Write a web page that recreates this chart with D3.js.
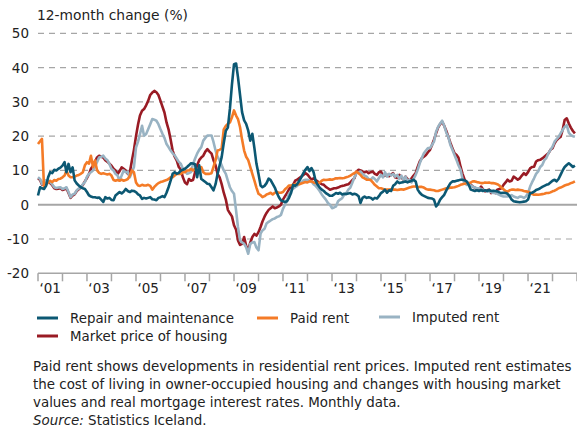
<!DOCTYPE html>
<html>
<head>
<meta charset="utf-8">
<script src="https://cdn.jsdelivr.net/npm/d3@7"></script>
<style>
  body { margin: 0; background: #fff; }
  svg { display: block; font-family: "DejaVu Sans", sans-serif; }
</style>
</head>
<body>
<script>
// monthly 12-month change (%), Jan 2001 .. Dec 2022, one row per year
const repair = [
  2.7, 5.1, 4.8, 4.6, 5.5, 8, 9.5, 9.2, 10.2, 10, 10.5, 10.8,
  11.4, 12.4, 9.5, 11.9, 9.5, 10.9, 7.1, 6.2, 5.6, 5.1, 4.8, 4.6,
  3.7, 2.7, 2.4, 2.2, 2.2, 2, 2.1, 1.5, 0.8, 2.2, 1.8, 2,
  1.4, 1.3, 2.7, 3.2, 3.7, 3.3, 3.8, 4.6, 4, 3.7, 4.1, 4,
  3.7, 3, 2.7, 1.7, 2, 1.8, 2, 2.2, 1.6, 1.5, 1.3, 2,
  2.2, 2.5, 2.2, 3.5, 5.1, 7, 9, 9.5, 9, 9.3, 10, 10.2,
  10.5, 11, 11.5, 12.1, 12, 11.8, 8, 11.5, 7.5, 7.1, 6.6, 6.1,
  6, 5.1, 4.2, 6, 9, 11.5, 13.9, 18, 21.6, 22.5, 28, 35,
  41, 41.2, 37.2, 32, 27, 24.6, 23.6, 21.6, 18.7, 20.7, 16.5, 12,
  9, 5.6, 5.1, 5.5, 6.3, 7.6, 7.2, 6.1, 5, 3.5, 2.2, 1.3,
  1, 0.8, 1, 2, 3.4, 5.8, 5.5, 6, 7, 8, 9.2, 10.2,
  11, 9.8, 10.7, 9.5, 7, 5.8, 5, 4.4, 4, 3.4, 3, 2.6,
  2.6, 3, 3.4, 3.2, 3.5, 3, 3.2, 3.1, 3.3, 3.4, 3, 3.2,
  3, 2.5, 0.5, 2, 2.4, 2, 2.2, 2, 1.5, 2, 1.8, 2.5,
  3.4, 3.8, 4.4, 3.5, 4.2, 4, 5.5, 6, 6.8, 6.3, 6.5, 6.6,
  6.8, 6.5, 6.8, 7, 7.3, 6.8, 4.4, 3.5, 2.9, 2.6, 2.3, 2,
  1.9, 1.8, 1.5, -0.5, 0.2, 1.5, 2.2, 2.9, 4.2, 5.3, 6.3, 6.8,
  6.8, 7, 7.1, 7.3, 7.3, 7.1, 6.8, 5.8, 4.4, 4.2, 4, 4.2,
  4, 4.3, 4, 4.2, 4, 4.3, 4, 4.1, 4, 3.9, 3.6, 3.4,
  3.5, 3.4, 3.2, 2.5, 1.5, 1, 0.9, 0.8, 0.7, 0.8, 0.9, 1,
  1.5, 3.4, 3.5, 3.8, 4.3, 4.5, 4.8, 5.2, 5.5, 5.8, 6, 6.5,
  7, 7.3, 6.8, 7.5, 8.7, 10, 11, 11.6, 12.1, 11.6, 11, 11.4
];

const paidRent = [
  17.7, 18.5, 19.2, 5, 5.8, 6.5, 7, 6.6, 7.2, 7, 7.5, 7.6,
  8, 8.5, 10, 8.5, 8, 8, 8.2, 8.5, 8.7, 9, 9.5, 11.5,
  12.4, 12, 14.3, 11, 12.9, 10, 9.3, 9, 9.2, 9, 8.8, 9,
  8.5, 7.2, 7, 7.2, 7, 7.3, 7, 7.2, 7.5, 8.5, 10, 9.5,
  6.5, 5.6, 5.5, 5.8, 5.6, 5.6, 5.8, 5.5, 4.4, 5.2, 5.8, 6.3,
  6.6, 6.8, 7, 7.2, 7.5, 8, 8, 8.5, 9, 9, 9, 9.5,
  9.5, 10, 10, 10.5, 10, 10.5, 10, 10.5, 11, 9.5, 9, 9,
  9, 9.2, 11, 13, 15.8, 16, 16.5, 22, 23, 23.6, 24, 25.5,
  27.5, 26, 25, 22.6, 19, 15.8, 14, 13, 11, 9, 7, 5,
  3.2, 2.8, 2.2, 2.5, 3, 3.2, 3.5, 3, 3.5, 3.7, 3.5, 3.5,
  3.7, 4.5, 5, 5.6, 5.6, 5.8, 6, 6, 6, 6.2, 6.4, 6.6,
  6.5, 6.8, 6.8, 6.5, 6.3, 6.3, 6.5, 7, 7.3, 7.2, 7.3, 7.4,
  7.3, 7.5, 7.7, 7.7, 7.8, 7.7, 7.8, 8, 8.2, 8.5, 8.9, 9.2,
  9.7, 9.2, 8.7, 8, 7.7, 7.3, 7.3, 7.2, 6.5, 5.8, 5.3, 4.8,
  4.8, 4.6, 4.4, 4.4, 4.4, 4.5, 4.4, 4.4, 4.3, 4.4, 4.5, 4.4,
  4.6, 4.8, 5, 5.2, 5.3, 5.3, 5.1, 5.2, 5.2, 5, 4.6, 4.4,
  4.4, 4.3, 4.2, 4, 4, 4.2, 4.4, 4.6, 4.8, 4.8, 5, 5,
  5.1, 5.3, 5.5, 5.8, 6, 6.1, 6.3, 6.3, 6.5, 6.8, 6.8, 6.6,
  6.5, 6.3, 6.3, 6.5, 6.4, 6.5, 6.3, 6.3, 6.2, 6, 5.6, 5,
  4.5, 4, 3.8, 4.2, 4.4, 4.4, 4.3, 4.4, 4.3, 4.2, 4, 3.9,
  3.8, 3.5, 3.2, 2.9, 3, 2.9, 3, 3.1, 3.2, 3.4, 3.4, 3.6,
  3.9, 4.1, 4.4, 4.8, 5, 5.3, 5.6, 5.8, 6, 6.3, 6.5, 6.8
];

const imputedRent = [
  8, 7.5, 6.1, 7, 7.1, 7, 6.6, 6, 5.1, 4.9, 5, 5.1,
  4.6, 4.8, 5.1, 3.7, 2.2, 3, 3.2, 4.2, 4.7, 5.1, 6, 6.6,
  8.2, 9, 9.5, 10, 11.2, 12.5, 13.8, 14, 14.3, 13.5, 13, 11.9,
  10.5, 10, 9, 8.5, 7.1, 8.5, 10, 9.5, 9.5, 8, 9.5, 11,
  16.7, 18.5, 20.6, 23, 20.1, 20.6, 22, 23.5, 25, 24.8, 24.5, 23.5,
  22, 20.6, 19.5, 17.7, 16.8, 15.8, 15, 14.4, 13.4, 12.5, 11.9, 10.5,
  10, 9, 9.2, 9.5, 11.9, 13.5, 14.9, 16, 16.8, 18.7, 19.5, 20.2,
  20.2, 20.2, 18.3, 15.8, 14, 12.9, 11.5, 10, 9, 7, 5.1, 4,
  3.2, -1.7, -6.5, -10.4, -11, -11.4, -12.4, -14.3, -11.4, -11, -10.9, -12.5,
  -13.3, -8.4, -7.5, -7, -5.5, -5, -4.6, -4.2, -4, -3.6, -3.4, -3,
  -1.2, 0, 1.3, 3.2, 4, 4.7, 5.1, 5.5, 6.1, 6.5, 7.1, 7.3,
  7.3, 7, 6.8, 6, 5.5, 4.8, 4, 3, 2.2, 1.5, 0.5, 0,
  -1, -0.8, -0.5, 1, 1.5, 1.9, 2.9, 3.4, 4.4, 5, 6.5, 8,
  9.2, 9.5, 9.7, 9, 8.5, 8.2, 7.5, 7.3, 8, 7.5, 6.8, 7.8,
  8.7, 8, 9.5, 8.2, 9, 8.5, 9, 8.2, 8.7, 7.5, 8.5, 7.3,
  8.2, 6.8, 7.3, 6.5, 7.5, 8.7, 10.2, 12.1, 13.6, 15, 15.8, 16.5,
  16.5, 17.5, 18.4, 21.3, 22.7, 23.7, 24.5, 23, 21, 19.8, 17.4, 16,
  14.5, 13, 11.5, 10.2, 7.5, 6.3, 5.8, 5.8, 5.6, 5.3, 5, 4.8,
  4.8, 4.6, 4.4, 4.2, 3.9, 3.9, 3.7, 3.4, 3.4, 3.2, 2.9, 2.6,
  2.4, 2.4, 2.4, 2.6, 2.8, 2.4, 2.2, 2, 2.4, 2.3, 2, 2.4,
  3.4, 5.3, 6.5, 7.7, 9, 9.7, 11, 11.6, 13, 13.6, 15, 16,
  16.9, 18.4, 19.1, 19.8, 20.8, 21.8, 22.7, 23.2, 21, 20.3, 20, 19.8
];

const marketPrice = [
  7.7, 7.2, 5.9, 6.8, 6.9, 6.7, 6.3, 5.7, 4.8, 4.6, 4.7, 4.8,
  4.3, 4.5, 4.8, 3.4, 2, 2.7, 3, 4, 4.5, 5, 5.8, 6.8,
  7.8, 9, 10.5, 11.4, 12.5, 13.8, 14.3, 14, 13.8, 13, 12.5, 12,
  11.4, 10.5, 10, 9, 9.8, 10.9, 10.5, 10, 9, 9.5, 12.9, 16,
  20, 23.5, 26, 27.4, 27.9, 29, 30.3, 32, 32.7, 33.2, 32.8, 32,
  30.3, 28.5, 26.9, 24, 22, 19, 15.8, 14, 12.9, 11, 10.2, 8,
  6.5, 6, 7.5, 7, 7.2, 9.5, 11.5, 13, 13.8, 14.3, 15.5, 16.2,
  15.5, 14.9, 13, 11.5, 9, 8, 6, 3.5, 1.5, -1.5, -2.5, -3.4,
  -6, -7.3, -10.4, -11.7, -11.4, -9.4, -12, -13.2, -11, -9.4, -8.5, -9,
  -8, -6.5, -4.9, -3.5, -2.4, -1.5, -1, -0.5, -1, -0.8, -0.5, 0,
  1.5, 2.5, 3.4, 4.5, 5.2, 5.8, 7, 7.3, 7.8, 8.2, 8.7, 9.2,
  8.8, 8, 7.3, 7.7, 7.2, 6.8, 6.3, 6, 5.8, 5.2, 4.8, 4.4,
  4.6, 4.8, 4.8, 5, 5.3, 5.5, 5.6, 5.8, 6, 6.5, 7.2, 7.7,
  9.7, 10.2, 10, 9.7, 9.5, 9.7, 9.2, 9.5, 9.7, 9, 8.7, 9.5,
  9.7, 8.3, 8.5, 8.7, 8.3, 8.8, 9.2, 8, 7.8, 8.7, 8, 7.3,
  8.2, 7.5, 6.8, 7.7, 8.5, 9.2, 11, 12.6, 13.6, 14, 14.5, 15.3,
  16, 17.5, 19, 20.8, 22.5, 23.5, 24.2, 23, 21.5, 19.8, 18, 16.5,
  15, 14.5, 13.7, 11.1, 9, 7.3, 6.3, 6.3, 5.8, 5.3, 5, 4.4,
  4.4, 5.3, 4.5, 3.9, 4.2, 4.4, 3.4, 3.6, 3.4, 4.4, 4.6, 4.8,
  5.8, 6.5, 7.3, 6.8, 7, 8.2, 7.8, 7.3, 7.7, 8.5, 9.2, 8.7,
  9.5, 10.6, 11, 11.1, 12.6, 13, 13.1, 13.5, 14, 14.5, 15, 16,
  16.5, 17.9, 18.8, 19.4, 19.8, 21.8, 24.7, 25.2, 23.7, 22.5, 21.5, 20.8
];

const yTicks = [50, 40, 30, 20, 10, 0, -10, -20];
const yearLabels = ["‘01", "‘03", "‘05", "‘07", "‘09", "‘11", "‘13", "‘15", "‘17", "‘19", "‘21"];
const legendNames = ["Repair and maintenance", "Paid rent", "Imputed rent", "Market price of housing"];
const captionLines = [
  "Paid rent shows developments in residential rent prices. Imputed rent estimates",
  "the cost of living in owner-occupied housing and changes with housing market",
  "values and real mortgage interest rates. Monthly data."
];

const W = 577, H = 432;
const colors = {
  repair: "#0c5873",
  paid: "#f47b27",
  imputed: "#99b3c3",
  market: "#991b24"
};
const textColor = "#222";

// scale a text selection's font so that its first node spans `width` px
function fitFont(sel, width) {
  const base = 20;
  sel.attr("font-size", base);
  const w = sel.node().getComputedTextLength();
  sel.attr("font-size", (base * width / w).toFixed(2));
}

const svg = d3.select("body").append("svg").attr("width", W).attr("height", H);

const x = d3.scaleTime()
  .domain([new Date(2001, 0, 1), new Date(2023, 0, 1)])
  .range([38, 577]);
const y = d3.scaleLinear().domain([-20, 50]).range([273.3, 33.3]);

// y title
const title = svg.append("text")
  .attr("x", 37).attr("y", 19.5)
  .attr("fill", textColor)
  .text("12-month change (%)");
fitFont(title, 151);

// grid
svg.append("g").selectAll("line")
  .data(yTicks.filter(d => d !== 0 && d !== -20))
  .join("line")
  .attr("x1", 38).attr("x2", W)
  .attr("y1", d => y(d)).attr("y2", d => y(d))
  .attr("stroke", "#a6a6a6").attr("stroke-width", 1.2)
  .attr("stroke-dasharray", "6,5");

svg.append("line")
  .attr("x1", 38).attr("x2", W)
  .attr("y1", y(0)).attr("y2", y(0))
  .attr("stroke", "#a6a6a6").attr("stroke-width", 2);

svg.append("g").selectAll("text")
  .data(yTicks)
  .join("text")
  .attr("x", 29).attr("y", d => y(d) + 5)
  .attr("text-anchor", "end")
  .attr("font-size", 13.5).attr("fill", textColor)
  .text(d => d);

// x axis along -20
const xAxis = svg.append("g").attr("transform", `translate(0,${y(-20)})`);
xAxis.append("line")
  .attr("x1", 38).attr("x2", W)
  .attr("stroke", "#a6a6a6").attr("stroke-width", 1.5);
xAxis.selectAll("line.tick")
  .data(d3.timeYear.range(new Date(2001, 0, 1), new Date(2023, 0, 2)))
  .join("line")
  .attr("class", "tick")
  .attr("x1", d => x(d)).attr("x2", d => x(d))
  .attr("y1", 0).attr("y2", 8)
  .attr("stroke", "#a6a6a6").attr("stroke-width", 1.5);
xAxis.selectAll("text")
  .data(yearLabels)
  .join("text")
  .attr("x", (d, i) => x(new Date(2001 + 2 * i, 6, 1)))
  .attr("y", 20)
  .attr("text-anchor", "middle")
  .attr("font-size", 13.5).attr("fill", textColor)
  .text(d => d);

// series
const months = d3.range(repair.length).map(i => new Date(2001, i, 1));
const line = d3.line().x((d, i) => x(months[i])).y(d => y(d));

const series = [
  { key: "market", values: marketPrice },
  { key: "imputed", values: imputedRent },
  { key: "paid", values: paidRent },
  { key: "repair", values: repair }
];

svg.append("g").selectAll("path")
  .data(series)
  .join("path")
  .attr("d", d => line(d.values))
  .attr("fill", "none")
  .attr("stroke", d => colors[d.key])
  .attr("stroke-width", 2.6)
  .attr("stroke-linejoin", "round");

// legend
const legendItems = [
  { name: legendNames[0], key: "repair", lx: 37, ly: 318 },
  { name: legendNames[1], key: "paid", lx: 257, ly: 318 },
  { name: legendNames[2], key: "imputed", lx: 379, ly: 317 },
  { name: legendNames[3], key: "market", lx: 37, ly: 336 }
];
const lg = svg.append("g").selectAll("g").data(legendItems).join("g");
lg.append("line")
  .attr("x1", d => d.lx).attr("x2", d => d.lx + 21)
  .attr("y1", d => d.ly).attr("y2", d => d.ly)
  .attr("stroke", d => colors[d.key]).attr("stroke-width", 3);
const lgText = lg.append("text")
  .attr("x", d => d.lx + 33).attr("y", d => d.ly + 5)
  .attr("fill", textColor)
  .text(d => d.name);
fitFont(lgText, 164);
lgText.attr("font-size", lgText.attr("font-size"));

// caption
const cap = svg.append("g").attr("fill", textColor);
const capText = cap.selectAll("text.line")
  .data(captionLines)
  .join("text")
  .attr("class", "line")
  .attr("x", 33).attr("y", (d, i) => 371 + i * 18)
  .text(d => d);
fitFont(capText, 539);
const capSize = capText.attr("font-size");
capText.attr("font-size", capSize);
const src = cap.append("text").attr("x", 33).attr("y", 371 + 3 * 18).attr("font-size", capSize);
src.append("tspan").attr("font-style", "italic").text("Source:");
src.append("tspan").text(" Statistics Iceland.");
</script>
</body>
</html>
